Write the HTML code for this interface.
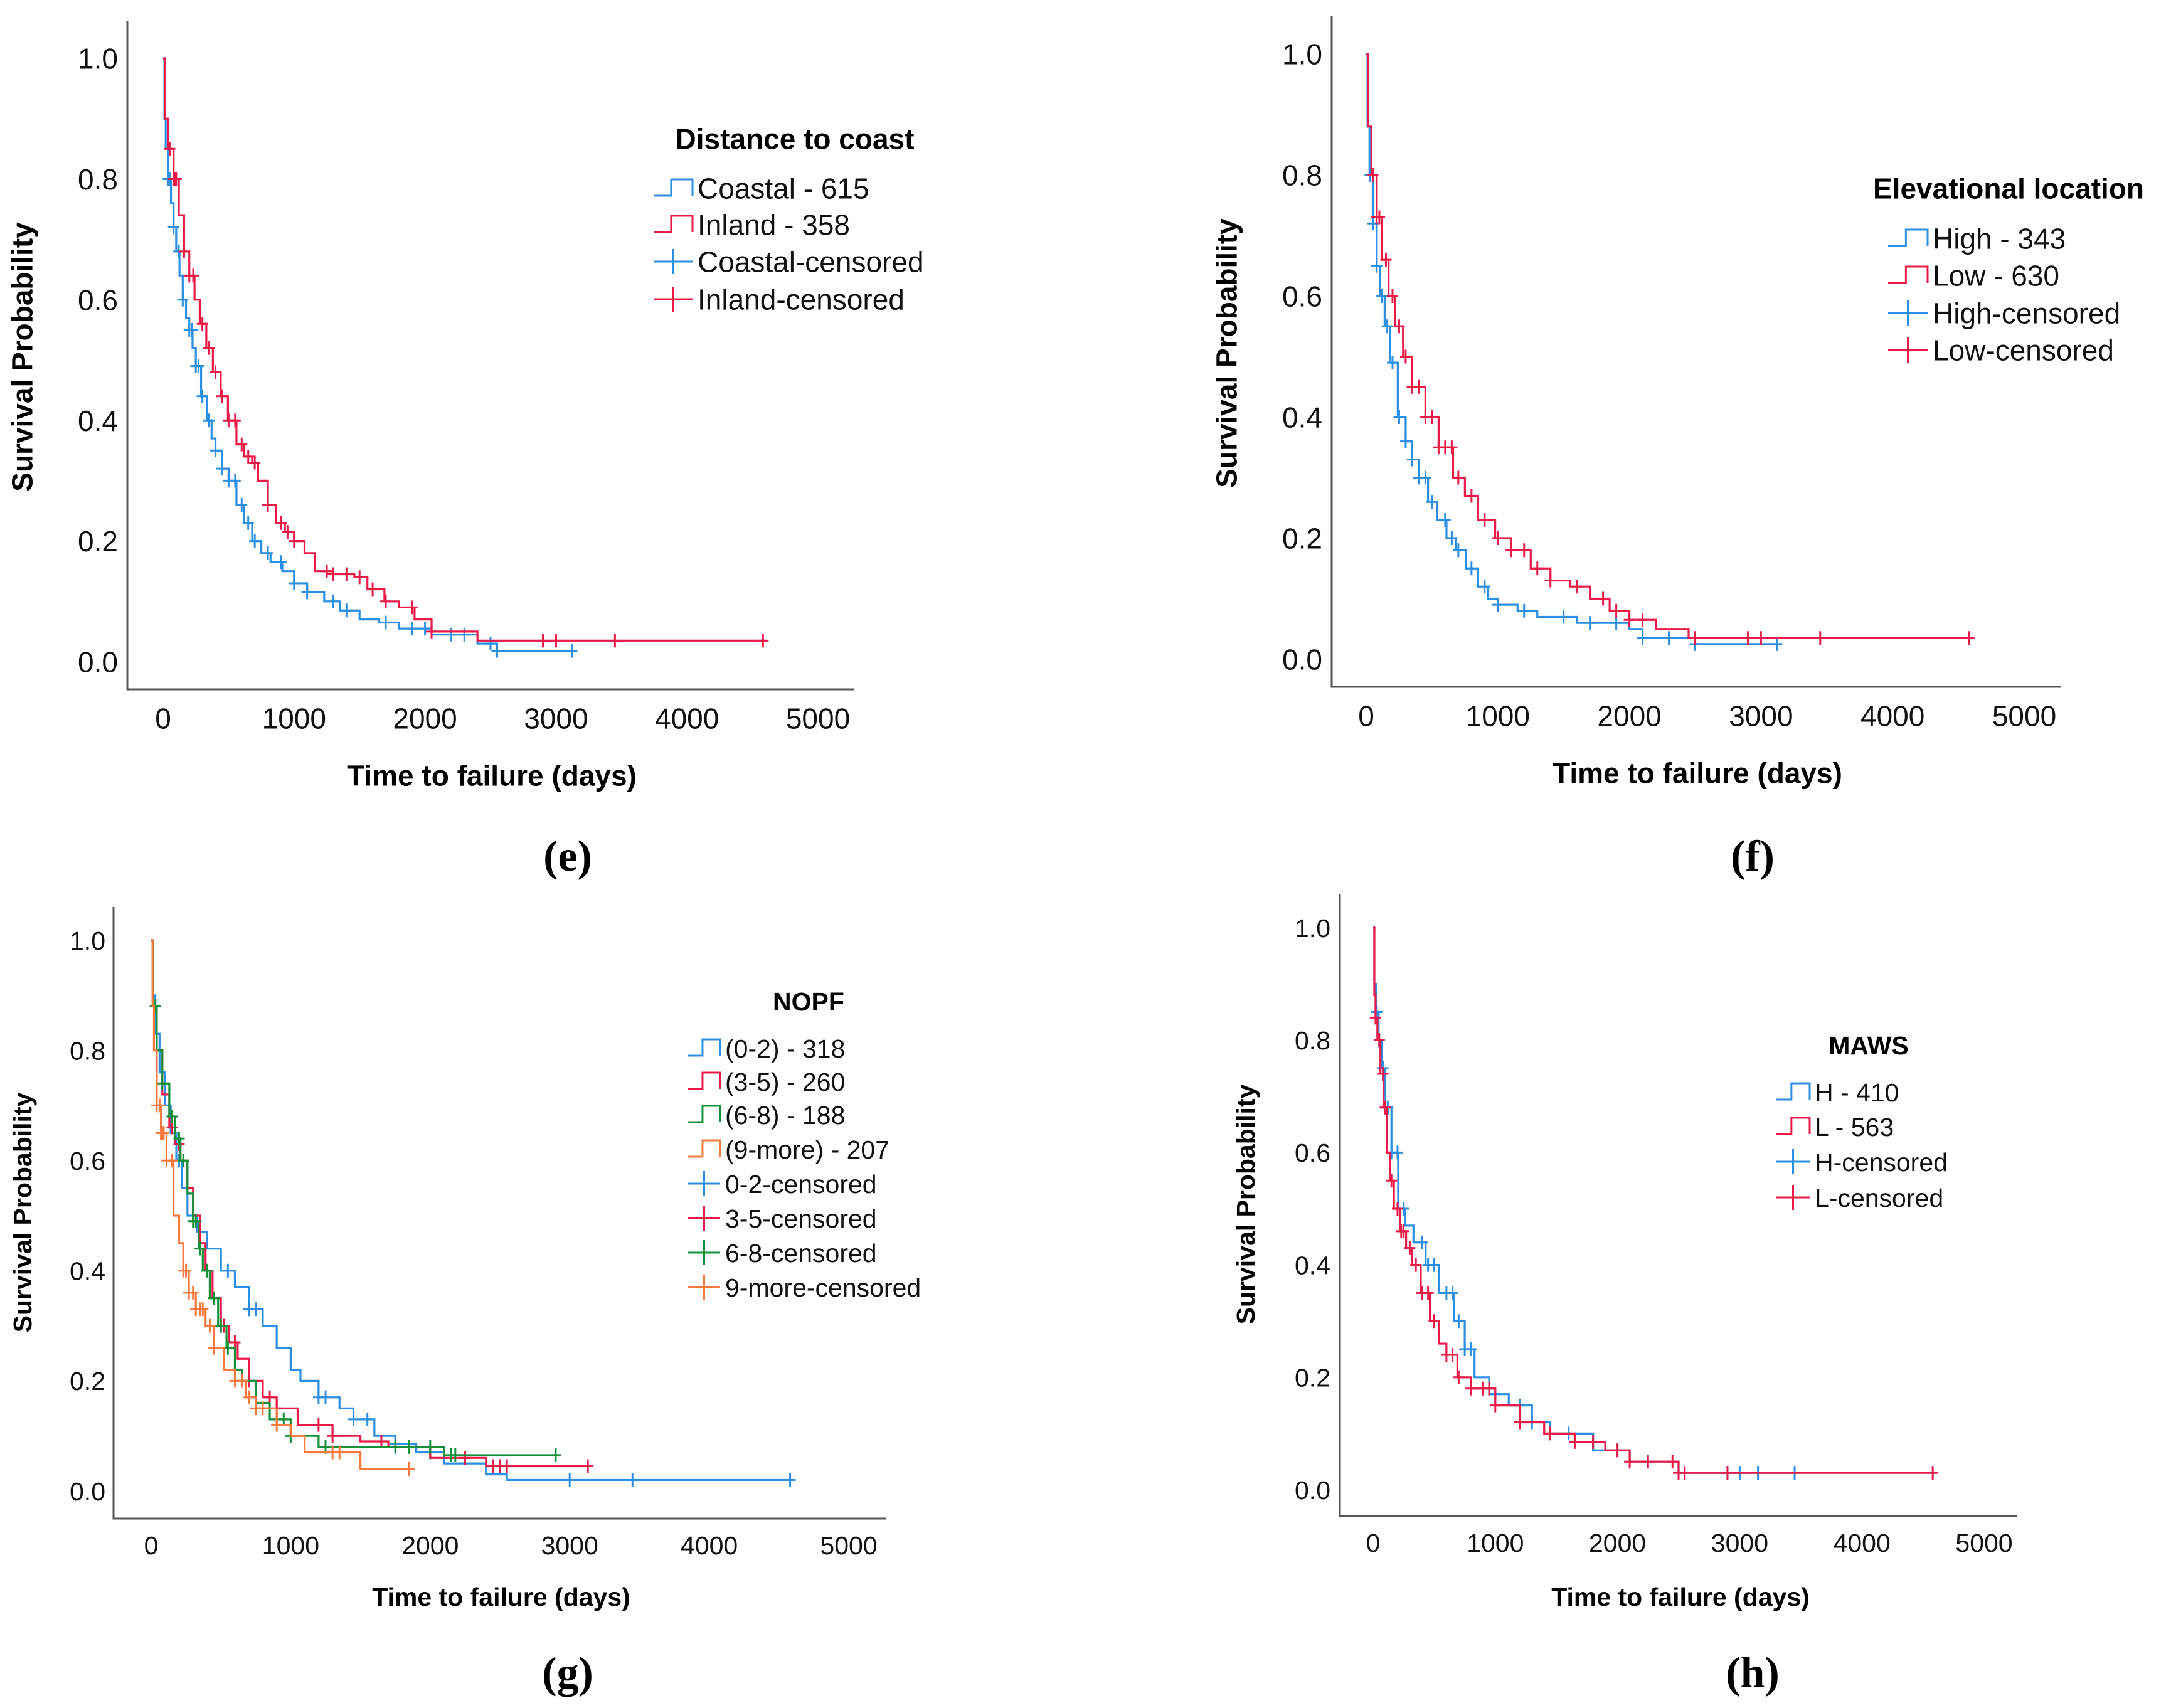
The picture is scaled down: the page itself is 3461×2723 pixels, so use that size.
<!DOCTYPE html>
<html><head><meta charset="utf-8">
<style>
html,body{margin:0;padding:0;background:#fff;}
svg{display:block;}
text{font-family:"Liberation Sans",Arial,sans-serif;}
</style></head>
<body>
<svg id="fig" width="3461" height="2723" viewBox="0 0 3461 2723" xmlns="http://www.w3.org/2000/svg"></svg>
<script>
// ---- Panel e: Distance to coast ----
const eCoastalT = [0,10,20,37,60,80,100,125,150,175,200,225,250,290,335,370,400,450,500,560,620,680,750,820,910,1000,1100,1230,1350,1500,1650,1800,2050,2400,2550,3120];
const eCoastalS = [1,0.9,0.85,0.8,0.76,0.72,0.68,0.64,0.6,0.57,0.55,0.52,0.49,0.44,0.4,0.37,0.35,0.32,0.3,0.26,0.23,0.2,0.18,0.165,0.15,0.13,0.115,0.1,0.085,0.07,0.065,0.055,0.045,0.03,0.018,0.018];
const eCoastalC = [40,50,80,120,150,200,220,250,270,300,350,400,450,500,550,600,650,700,800,900,1000,1100,1300,1400,1700,1900,2000,2200,2300,2500,2550,3120];
const eInlandT = [0,15,40,80,120,160,200,240,280,330,380,440,495,560,620,680,725,800,860,930,1000,1080,1160,1300,1460,1560,1690,1800,1920,2050,2400,4600];
const eInlandS = [1,0.9,0.85,0.8,0.74,0.68,0.64,0.6,0.56,0.52,0.48,0.44,0.4,0.36,0.34,0.33,0.3,0.26,0.23,0.215,0.2,0.18,0.15,0.145,0.14,0.12,0.1,0.09,0.07,0.05,0.035,0.035];
const eInlandC = [50,80,90,100,160,200,230,300,350,400,450,500,550,600,650,700,800,900,950,1000,1250,1300,1400,1500,1600,1700,1900,2050,2900,3000,3450,4580];
// ---- Panel f: Elevational location ----
const fHighT = [0,10,25,50,80,105,140,180,240,300,350,400,470,540,610,680,760,850,925,1000,1150,1300,1600,2000,2100,2500,3120];
const fHighS = [1,0.88,0.8,0.72,0.65,0.6,0.55,0.49,0.4,0.36,0.33,0.3,0.26,0.23,0.2,0.18,0.15,0.12,0.1,0.09,0.08,0.07,0.06,0.05,0.035,0.025,0.025];
const fHighC = [30,50,80,120,160,200,250,300,350,400,450,500,600,650,700,800,900,1000,1200,1500,1700,1900,2100,2300,2500,3120];
const fLowT = [0,15,40,80,120,170,220,280,350,450,550,660,750,850,980,1100,1250,1400,1550,1700,1850,2000,2200,2450,4600];
const fLowS = [1,0.88,0.8,0.73,0.66,0.6,0.55,0.5,0.45,0.4,0.35,0.3,0.27,0.23,0.2,0.18,0.15,0.13,0.12,0.1,0.08,0.065,0.05,0.035,0.035];
const fLowC = [50,80,100,150,200,250,300,350,400,450,500,550,600,650,700,800,900,1000,1100,1200,1300,1400,1600,1800,1900,2000,2100,2500,2900,3000,3450,4580];
// ---- Panel g: NOPF ----
const g02T = [0,10,30,60,100,140,180,220,260,330,400,500,600,700,800,900,1000,1070,1200,1350,1450,1600,1750,1900,2100,2400,2550,4600];
const g02S = [1,0.9,0.83,0.76,0.7,0.65,0.6,0.55,0.5,0.47,0.44,0.4,0.37,0.33,0.3,0.26,0.22,0.2,0.17,0.15,0.13,0.1,0.085,0.07,0.05,0.03,0.02,0.02];
const g02C = [200,550,700,750,1200,1250,1450,1550,1750,2000,3000,3450,4580];
const g35T = [0,15,40,80,130,170,210,260,300,350,390,440,500,560,620,700,800,900,1050,1300,1500,1700,2000,2400,3130];
const g35S = [1,0.88,0.8,0.72,0.66,0.63,0.6,0.55,0.5,0.45,0.4,0.35,0.3,0.27,0.24,0.2,0.17,0.15,0.12,0.1,0.09,0.08,0.06,0.045,0.045];
const g35C = [150,200,500,520,600,700,850,900,1200,1300,1650,1850,2250,2450,2500,2550,3130];
const g68T = [0,15,40,80,130,170,210,260,300,340,370,420,480,540,600,650,750,850,1000,1200,2100,2900];
const g68S = [1,0.88,0.8,0.74,0.68,0.64,0.6,0.54,0.49,0.44,0.4,0.35,0.3,0.26,0.22,0.2,0.16,0.13,0.1,0.08,0.065,0.065];
const g68C = [30,80,150,200,230,300,320,350,400,450,500,550,650,900,950,1000,1250,1750,1850,2000,2150,2180,2900];
const g9T = [0,10,20,40,70,110,160,200,230,270,320,390,450,520,600,680,750,900,1000,1100,1500,1850];
const g9S = [1,0.88,0.8,0.7,0.65,0.6,0.5,0.45,0.4,0.36,0.33,0.3,0.26,0.22,0.2,0.17,0.15,0.12,0.1,0.07,0.04,0.04];
const g9C = [40,60,70,80,90,110,150,230,250,270,300,320,350,370,420,450,600,650,700,750,800,900,1300,1350,1850];
// ---- Panel h: MAWS ----
const hHT = [0,10,25,45,70,100,150,205,260,330,430,540,660,750,830,950,1110,1300,1450,1800,2100,2500,3450];
const hHS = [1,0.9,0.85,0.8,0.75,0.68,0.6,0.5,0.47,0.44,0.4,0.35,0.3,0.25,0.2,0.17,0.15,0.12,0.1,0.07,0.05,0.03,0.03];
const hHC = [30,50,80,100,120,150,200,250,400,450,500,600,650,700,750,800,1000,1200,1300,1600,2000,2900,3000,3150,3450];
const hLT = [0,10,20,35,60,85,115,140,170,220,270,320,390,465,540,600,690,800,1000,1200,1400,1650,1900,2100,2500,4600];
const hLS = [1,0.88,0.84,0.8,0.74,0.68,0.6,0.55,0.5,0.46,0.43,0.4,0.35,0.3,0.26,0.24,0.2,0.18,0.15,0.12,0.1,0.085,0.07,0.05,0.03,0.03];
const hLC = [20,50,80,100,150,200,230,250,300,350,400,450,500,600,650,700,800,900,950,1000,1200,1450,1650,1800,2000,2100,2250,2450,2500,2550,2900,4580];

const xTicks = [0,1000,2000,3000,4000,5000];
const yTicks = [0,0.2,0.4,0.6,0.8,1.0];
const yTickLabels = ["0.0","0.2","0.4","0.6","0.8","1.0"];

const C = {blue:"#2b8fe3", red:"#ea1a48", green:"#12913a", orange:"#f77a3c"};
const NS = "http://www.w3.org/2000/svg";
const svg = document.getElementById('fig');
function mk(tag, attrs, parent){const e=document.createElementNS(NS,tag);for(const k in attrs)e.setAttribute(k,attrs[k]);(parent||svg).appendChild(e);return e;}
function txt(s, attrs, parent){const e=mk('text',attrs,parent);e.textContent=s;return e;}
function stepAt(T,S,t){let v=S[0];for(let i=0;i<T.length;i++){if(T[i]<=t)v=S[i];}return v;}

function panel(P){
  const g = mk('g',{});
  
  
  const sx = t => P.x0 + (P.x5-P.x0)*t/5000;
  const sy = s => P.y0 + (P.y1-P.y0)*s;
  const ax = mk('path',{d:`M${P.left},${P.top} L${P.left},${P.bottom} L${P.right},${P.bottom}`,fill:'none',stroke:'#555',"stroke-width":3},g);
  
  
  yTicks.forEach((v,i)=>{
    const t=txt(yTickLabels[i],{x:P.yLabX,y:sy(v)+P.fs*0.36,"font-size":P.fs,"text-anchor":"end",fill:'#111'},g);
    
    
  });
  xTicks.forEach(v=>{
    const t=txt(String(v),{x:sx(v),y:P.xLabY+P.fs*0.36,"font-size":P.fs,"text-anchor":"middle",fill:'#111'},g);
    
    
  });
  const yt=txt('Survival Probability',{x:0,y:0,"font-size":P.tfs,"font-weight":"bold","text-anchor":"middle",transform:`translate(${P.ytX+P.tfs*0.36},${P.ytY}) rotate(-90)`},g);
  
  
  const xt=txt('Time to failure (days)',{x:P.xtX,y:P.xtY+P.tfs*0.36,"font-size":P.tfs,"font-weight":"bold","text-anchor":"middle"},g);
  
  
  const pl=txt(P.label,{x:P.labX,y:P.labY+24,"font-size":70,"font-weight":"bold","text-anchor":"middle",style:'font-family:"Liberation Serif",serif'},g);
  
  
  P.series.forEach(sr=>{
    let d=`M${sx(sr.T[0])},${sy(sr.S[0])}`;
    for(let i=1;i<sr.T.length;i++){d+=` H${sx(sr.T[i])} V${sy(sr.S[i])}`;}
    const p=mk('path',{d,fill:'none',stroke:sr.color,"stroke-width":3.2},g);
    
    
    sr.C.forEach(t=>{
      const cx=sx(t), cy=sy(stepAt(sr.T,sr.S,t));
      const m=mk('path',{d:`M${cx-9},${cy} H${cx+9} M${cx},${cy-11} V${cy+11}`,stroke:sr.color,"stroke-width":3},g);
      
      
    });
  });
  const lt=txt(P.legTitle,{x:P.legTX,y:P.legTY+P.lfs*0.36,"font-size":P.lfs,"font-weight":"bold","text-anchor":"middle"},g);
  
  
  P.legend.forEach((e,i)=>{
    const y=P.legY[i], x=P.legIX, w=P.legTXt-P.legIX-8;
    const ic = e.cens
      ? mk('path',{d:`M${x},${y} H${x+w} M${x+w/2},${y-20} V${y+20}`,stroke:e.color,"stroke-width":3,fill:'none'},g)
      : mk('path',{d:`M${x},${y+12} H${x+w*0.45} V${y-14} H${x+w} V${y+12}`,stroke:e.color,"stroke-width":3,fill:'none'},g);
    
    
    const t=txt(e.text,{x:P.legTXt,y:y+P.lfs*0.36,"font-size":P.lfs,fill:'#111'},g);
    
    
  });
}

panel({id:'e',label:'(e)',left:203,top:33,bottom:1099,right:1362,x0:260,x5:1304,y0:1055,y1:93,yLabX:188,xLabY:1145,fs:46,tfs:46,
  ytX:35,ytY:569,xtX:784,xtY:1236,labX:905,labY:1364,legTitle:'Distance to coast',legTX:1267,legTY:221,lfs:46,
  legIX:1042,legTXt:1112,legY:[300,358,417,477],
  legend:[{text:'Coastal - 615',color:C.blue},{text:'Inland - 358',color:C.red},{text:'Coastal-censored',color:C.blue,cens:1},{text:'Inland-censored',color:C.red,cens:1}],
  series:[{key:'coastal',T:eCoastalT,S:eCoastalS,C:eCoastalC,color:C.blue},{key:'inland',T:eInlandT,S:eInlandS,C:eInlandC,color:C.red}]});

panel({id:'f',label:'(f)',left:2123,top:26,bottom:1095,right:3286,x0:2178,x5:3227,y0:1051,y1:86,yLabX:2108,xLabY:1141,fs:46,tfs:46,
  ytX:1955,ytY:563,xtX:2706,xtY:1232,labX:2794,labY:1364,legTitle:'Elevational location',legTX:3202,legTY:300,lfs:46,
  legIX:3010,legTXt:3081,legY:[380,439,499,558],
  legend:[{text:'High - 343',color:C.blue},{text:'Low - 630',color:C.red},{text:'High-censored',color:C.blue,cens:1},{text:'Low-censored',color:C.red,cens:1}],
  series:[{key:'high',T:fHighT,S:fHighS,C:fHighC,color:C.blue},{key:'low',T:fLowT,S:fLowS,C:fLowC,color:C.red}]});

panel({id:'g',label:'(g)',left:181,top:1446,bottom:2421,right:1412,x0:241,x5:1353,y0:2377,y1:1499,yLabX:168,xLabY:2463,fs:41,tfs:41,
  ytX:35,ytY:1933,xtX:799,xtY:2545,labX:905,labY:2666,legTitle:'NOPF',legTX:1289,legTY:1596,lfs:41,
  legIX:1097,legTXt:1156,legY:[1671,1724,1777,1832,1887,1942,1997,2052],
  legend:[{text:'(0-2) - 318',color:C.blue},{text:'(3-5) - 260',color:C.red},{text:'(6-8) - 188',color:C.green},{text:'(9-more) - 207',color:C.orange},
    {text:'0-2-censored',color:C.blue,cens:1},{text:'3-5-censored',color:C.red,cens:1},{text:'6-8-censored',color:C.green,cens:1},{text:'9-more-censored',color:C.orange,cens:1}],
  series:[{key:'0-2',T:g02T,S:g02S,C:g02C,color:C.blue},{key:'3-5',T:g35T,S:g35S,C:g35C,color:C.red},{key:'6-8',T:g68T,S:g68S,C:g68C,color:C.green},{key:'9-more',T:g9T,S:g9S,C:g9C,color:C.orange}]});

panel({id:'h',label:'(h)',left:2136,top:1426,bottom:2417,right:3216,x0:2189,x5:3163,y0:2375,y1:1479,yLabX:2121,xLabY:2459,fs:41,tfs:41,
  ytX:1985,ytY:1920,xtX:2679,xtY:2545,labX:2794,labY:2666,legTitle:'MAWS',legTX:2979,legTY:1666,lfs:41,
  legIX:2832,legTXt:2893,legY:[1741,1796,1852,1909],
  legend:[{text:'H - 410',color:C.blue},{text:'L - 563',color:C.red},{text:'H-censored',color:C.blue,cens:1},{text:'L-censored',color:C.red,cens:1}],
  series:[{key:'H',T:hHT,S:hHS,C:hHC,color:C.blue},{key:'L',T:hLT,S:hLS,C:hLC,color:C.red}]});
</script>
</body></html>
